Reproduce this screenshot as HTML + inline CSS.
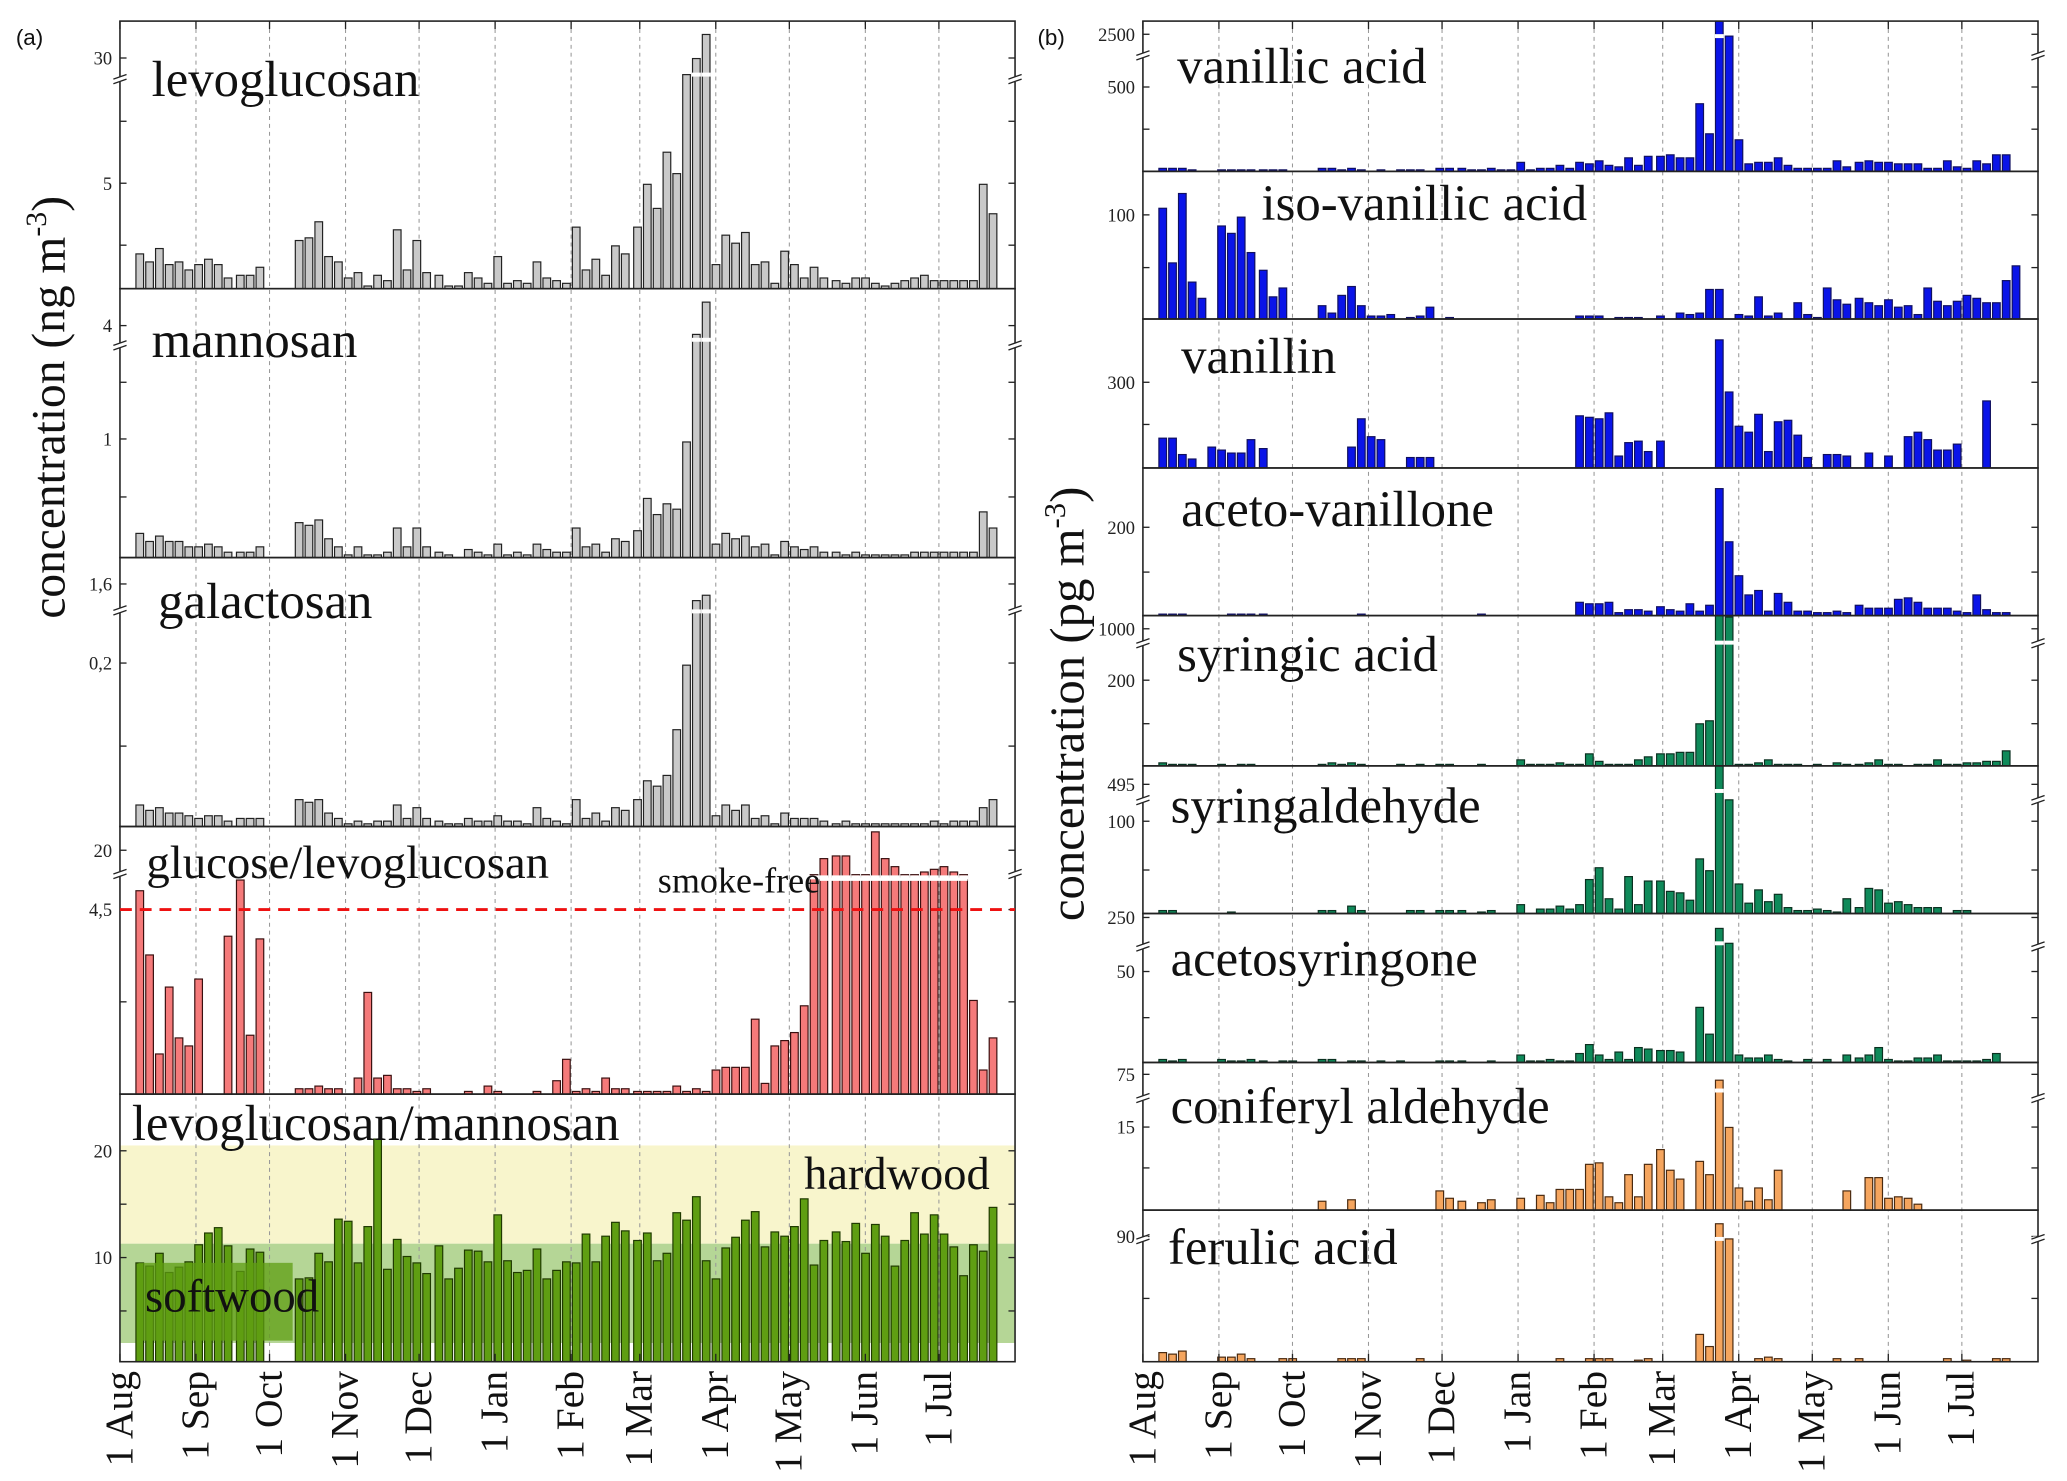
<!DOCTYPE html>
<html><head><meta charset="utf-8"><style>
html,body{margin:0;padding:0;background:#fff;}
svg{display:block;}
text{font-family:"Liberation Serif",serif;}
</style></head><body>
<svg id="chart" width="2067" height="1481" viewBox="0 0 1568 1123.5" preserveAspectRatio="none" xmlns="http://www.w3.org/2000/svg">
<rect x="0" y="0" width="1568" height="1124" fill="#fff"/>
<g id="bg"></g><g id="grid"></g><g id="bars"></g><g id="frames"></g><g id="labels"></g>
</svg>
<script>
const sampleDays=[7,11,15,19,23,27,31,35,39,43,48,52,56,60,64,68,72,76,80,84,88,92,96,100,104,108,112,116,120,124,129,133,137,141,145,149,153,157,161,165,169,173,177,181,185,189,193,197,201,205,210,214,218,222,226,230,234,238,242,246,250,254,258,262,266,270,274,278,282,286,291,295,299,303,307,311,315,319,323,327,331,335,339,343,347,351,355];
const monthDays=[0,31,61,92,122,153,184,212,243,273,304,334];
const monthLabels=["1 Aug","1 Sep","1 Oct","1 Nov","1 Dec","1 Jan","1 Feb","1 Mar","1 Apr","1 May","1 Jun","1 Jul"];
const N=null;
const levoglucosan=[13,10,15,9,10,7,9,11,9,4,5,5,8,N,N,N,18,19,25,12,10,4,6,1,5,3,22,7,18,6,5,1,1,6,4,2,12,2,3,2,10,4,3,2,23,7,11,5,16,13,23,39,30,51,43,80,86,95,9,20,17,21,9,10,2,14,9,4,8,4,3,2,4,4,2,1,2,3,4,5,3,3,3,3,3,39,28];
const mannosan=[9,6,8,6,6,4,4,5,4,2,2,2,4,N,N,N,13,12,14,7,4,1,4,1,1,2,11,4,11,4,2,1,0,3,2,1,5,1,2,1,5,3,2,2,11,4,5,2,7,6,10,22,16,20,18,43,83,95,5,9,7,8,4,5,1,6,4,3,4,2,2,1,2,1,1,1,1,1,2,2,2,2,2,2,2,17,11];
const galactosan=[8,6,7,5,5,4,3,4,4,2,3,3,3,N,N,N,10,9,10,5,3,1,2,1,2,2,8,3,7,3,2,1,1,3,2,2,4,2,2,1,7,3,2,1,10,3,5,2,7,6,10,17,15,19,36,60,84,86,4,8,6,8,3,4,1,5,3,3,3,2,1,2,1,1,1,1,1,1,1,1,2,1,2,2,2,7,10];
const glucoseRatio=[76,52,15,40,21,18,43,N,N,59,80,22,58,N,N,N,2,2,3,2,2,0,6,38,6,7,2,2,1,2,N,N,N,1,N,3,1,N,N,N,1,N,5,13,1,2,1,6,2,2,1,1,1,1,3,1,2,1,9,10,10,10,28,4,18,20,23,33,82,88,89,89,82,82,98,88,85,82,82,83,84,85,83,82,35,9,21];
const levoMannRatio=[9.5,9.2,10.4,8.6,9.1,9.6,11.2,12.3,12.8,11.1,8.7,10.8,10.5,N,N,N,8.0,8.1,10.4,9.6,13.6,13.4,9.5,12.9,21.1,8.9,11.7,10.1,9.5,8.5,11.1,8.0,9.0,10.7,10.6,9.6,14.0,9.7,8.6,8.8,10.8,8.0,8.8,9.6,9.5,12.2,9.6,12.0,13.3,12.5,11.6,12.3,9.7,10.4,14.2,13.5,15.7,9.7,8.0,10.9,11.9,13.5,14.3,11.0,12.4,12.0,12.9,15.5,9.3,11.6,12.4,11.5,13.2,10.4,13.1,12.0,9.2,11.6,14.2,12.2,14.0,12.2,11.0,8.3,11.2,10.6,14.7];
const vanillicAcid=[2,2,2,1,0,0,1,1,1,1,1,1,1,0,0,0,2,2,1,2,1,0,1,0,1,1,1,0,2,2,2,1,1,2,1,1,6,1,2,2,4,2,6,5,7,4,3,9,4,10,10,11,9,9,45,25,100,90,21,5,6,6,9,4,2,2,2,2,7,3,6,7,6,6,5,5,5,2,2,7,3,2,7,5,11,11,0];
const isoVanillicAcid=[75,38,85,25,14,0,63,58,69,45,33,15,21,0,0,0,9,4,16,22,9,2,2,3,0,1,2,8,0,1,0,0,0,0,0,0,0,0,0,0,0,0,2,2,2,0,1,1,1,0,2,0,4,3,4,20,20,0,3,2,15,2,4,0,11,3,1,21,13,10,14,11,9,13,8,9,3,21,12,9,12,16,14,11,11,26,36];
const vanillin=[20,20,9,6,0,14,12,10,10,19,13,0,0,0,0,0,0,0,0,14,33,21,19,0,0,7,7,7,0,0,0,0,0,0,0,0,0,0,0,0,0,0,35,34,33,37,8,17,18,11,18,0,0,0,0,0,86,51,28,24,36,11,31,32,22,7,0,9,9,8,0,10,0,8,0,21,24,19,12,12,16,0,0,45,0,0,0];
const acetoVanillone=[1,1,1,0,0,0,0,1,1,1,1,0,0,0,0,0,0,0,0,0,1,0,0,0,0,0,0,0,0,0,0,0,1,0,0,0,0,0,0,0,0,0,9,8,8,9,2,4,4,3,6,4,3,8,3,7,86,50,27,14,17,3,15,9,3,3,2,2,3,2,7,5,5,5,11,12,9,5,5,5,3,2,14,4,2,2,0];
const syringicAcid=[2,1,1,1,0,0,1,0,1,1,0,0,0,0,0,0,1,2,1,2,1,0,0,0,1,0,1,0,1,1,0,0,1,0,0,0,4,1,1,1,2,1,1,8,3,1,1,1,4,6,8,8,9,9,28,30,100,99,1,1,2,4,1,1,1,0,1,0,2,1,1,2,4,1,1,0,1,1,4,1,1,2,2,3,3,10,0];
const syringaldehyde=[2,2,0,0,0,0,0,1,0,0,0,0,0,0,0,0,2,2,0,5,2,0,0,0,0,2,2,0,2,2,2,0,1,2,0,0,6,0,3,3,5,3,6,23,31,10,3,25,6,22,22,15,14,9,37,29,100,77,20,7,16,8,13,4,2,2,3,2,1,10,4,17,16,7,8,6,4,4,4,0,2,2,0,0,0,0,0];
const acetosyringone=[2,1,2,0,0,0,2,1,1,2,1,0,1,1,0,0,2,2,0,1,1,0,1,0,1,0,0,0,1,1,1,0,0,1,0,0,5,1,1,2,1,1,6,12,5,2,7,2,10,9,8,8,7,0,37,19,90,80,5,3,3,5,2,1,0,2,0,2,0,5,3,5,10,2,1,1,3,3,5,1,1,1,1,2,6,0,0];
const coniferylAldehyde=[0,0,0,0,0,0,0,0,0,0,0,0,0,0,0,0,6,0,0,7,0,0,0,0,0,0,0,0,13,8,6,0,5,7,0,0,8,0,10,5,14,14,14,31,32,9,5,24,9,31,41,27,21,0,33,24,88,56,15,6,15,7,27,0,0,0,0,0,0,13,0,22,22,8,9,8,4,0,0,0,0,0,0,0,0,0,0];
const ferulicAcid=[6,5,7,0,0,0,3,3,5,2,0,0,2,2,0,0,0,0,2,2,2,0,0,0,0,0,2,0,0,0,0,0,0,0,0,0,0,0,0,0,2,0,0,2,2,2,0,0,1,2,0,0,0,0,18,10,91,81,0,0,2,3,2,0,0,0,0,0,2,0,2,0,0,0,0,0,0,0,0,2,0,1,0,0,2,2,0];

const NS="http://www.w3.org/2000/svg";
const gBg=document.getElementById('bg'),gGrid=document.getElementById('grid'),gBars=document.getElementById('bars'),gFr=document.getElementById('frames'),gLab=document.getElementById('labels');
function el(tag,attrs,parent){const e=document.createElementNS(NS,tag);for(const k in attrs)e.setAttribute(k,attrs[k]);parent.appendChild(e);return e;}
const PXD=1.86;
const L0=91,L1=770,R0=867,R1=1546;
function xL(d){return L0+d*PXD;}
function xR(d){return R0+d*PXD;}
const BW=5.8, OFF=2;

function drawPanel(p){
  const H=p.bottom-p.top;
  const xf=p.side==='L'?xL:xR;
  const gp=el('g',{},gBars);
  
  
  p.values.forEach((v,i)=>{
    if(v===null||v<=0)return;
    const x=xf(sampleDays[i])+OFF-BW/2;
    const y=p.yf?p.yf(v):p.bottom-v/100*H;
    const r=el('rect',{x:x,y:y,width:BW,height:p.bottom-y,fill:p.fill,stroke:p.stroke,'stroke-width':0.9},gp);
    
    
    if(p.brk&&v>p.brk){
      const by=p.bottom-p.brk/100*H;
      el('rect',{x:x-0.5,y:by-1.5,width:BW+1,height:3,fill:'#fff'},gp);
    }
  });
  const x0=p.side==='L'?L0:R0,x1=p.side==='L'?L1:R1;
  el('rect',{x:x0,y:p.top,width:x1-x0,height:H,fill:'none',stroke:'#222','stroke-width':1.2},gFr);
  (p.ticks||[]).forEach(t=>{
    el('line',{x1:x0,x2:x0+5,y1:t[0],y2:t[0],stroke:'#222','stroke-width':1},gFr);
    el('line',{x1:x1,x2:x1-5,y1:t[0],y2:t[0],stroke:'#222','stroke-width':1},gFr);
    if(t[1]){const tx=el('text',{x:x0-6,y:t[0]+5,'font-size':14,'text-anchor':'end',fill:'#222'},gLab);tx.textContent=t[1];
      }
  });
  if(p.breakY){
    [x0,x1].forEach(xx=>{
      el('rect',{x:xx-4,y:p.breakY-2,width:8,height:4,fill:'#fff'},gFr);
      el('line',{x1:xx-5,y1:p.breakY,x2:xx+5,y2:p.breakY-3.5,stroke:'#222','stroke-width':1},gFr);
      el('line',{x1:xx-5,y1:p.breakY+3.5,x2:xx+5,y2:p.breakY,stroke:'#222','stroke-width':1},gFr);
    });
  }
  const tt=el('text',{x:p.lx,y:p.ly,'font-size':p.fs||38.5,fill:'#111'},gLab);
  tt.textContent=p.label;
  
  
}

function yLM(v){return 1035-8.1*v;}
el('rect',{x:L0,y:yLM(20.5),width:L1-L0,height:yLM(11.3)-yLM(20.5),fill:'#f8f5cc'},gBg);
el('rect',{x:L0,y:yLM(11.3),width:L1-L0,height:yLM(2)-yLM(11.3),fill:'#b5d696'},gBg);

monthDays.forEach((d,i)=>{
  [xL(d),xR(d)].forEach(x=>{
    if(i>0) el('line',{x1:x,x2:x,y1:16,y2:1033,stroke:'#999','stroke-width':0.8,'stroke-dasharray':'3,3'},gGrid);
    el('line',{x1:x,x2:x,y1:1033,y2:1027,stroke:'#222','stroke-width':1},gFr);
    el('line',{x1:x,x2:x,y1:16,y2:22,stroke:'#222','stroke-width':1},gFr);
  });
});

const gray={fill:'#c9c9c9',stroke:'#222'};
const panels=[
 {id:'levoglucosan',side:'L',top:16,bottom:219,values:levoglucosan,fill:gray.fill,stroke:gray.stroke,brk:80,breakY:60,label:'levoglucosan',lx:115,ly:73,ticks:[[44,'30'],[139,'5'],[92,''],[186,'']]},
 {id:'mannosan',side:'L',top:219,bottom:423,values:mannosan,fill:gray.fill,stroke:gray.stroke,brk:81,breakY:262,label:'mannosan',lx:115,ly:271,ticks:[[247,'4'],[333,'1'],[290,''],[377,'']]},
 {id:'galactosan',side:'L',top:423,bottom:627,values:galactosan,fill:gray.fill,stroke:gray.stroke,brk:80,breakY:463,label:'galactosan',lx:120,ly:469,ticks:[[443,'1,6'],[503,'0,2'],[566,'']]},
 {id:'glucose-levoglucosan',side:'L',top:627,bottom:830,values:glucoseRatio,fill:'#f57a7a',stroke:'#3a1010',brk:81,breakY:663,label:'glucose/levoglucosan',lx:111,ly:666,fs:35.5,ticks:[[645,'20'],[690,'4,5'],[760,'']]},
 {id:'levoglucosan-mannosan',side:'L',top:830,bottom:1033,values:levoMannRatio,yf:yLM,fill:'#5f9e12',stroke:'#1f3a00',label:'levoglucosan/mannosan',lx:100,ly:865,fs:38.5,ticks:[[yLM(20),'20'],[yLM(10),'10'],[yLM(15),''],[yLM(5),'']]},
 {id:'vanillic-acid',side:'R',top:16,bottom:130,values:vanillicAcid,fill:'#0a14e8',stroke:'#101060',brk:90,breakY:42,label:'vanillic acid',lx:893,ly:63,ticks:[[26,'2500'],[66,'500'],[98,'']]},
 {id:'iso-vanillic-acid',side:'R',top:130,bottom:242,values:isoVanillicAcid,fill:'#0a14e8',stroke:'#101060',label:'iso-vanillic acid',lx:957,ly:167,ticks:[[163,'100'],[203,'']]},
 {id:'vanillin',side:'R',top:242,bottom:355,values:vanillin,fill:'#0a14e8',stroke:'#101060',label:'vanillin',lx:896,ly:283,ticks:[[290,'300'],[322,'']]},
 {id:'aceto-vanillone',side:'R',top:355,bottom:467,values:acetoVanillone,fill:'#0a14e8',stroke:'#101060',label:'aceto-vanillone',lx:896,ly:399,ticks:[[400,'200'],[434,'']]},
 {id:'syringic-acid',side:'R',top:467,bottom:581,values:syringicAcid,fill:'#0f8a5a',stroke:'#0a3020',brk:82,breakY:488,label:'syringic acid',lx:893,ly:509,ticks:[[477,'1000'],[516,'200'],[549,'']]},
 {id:'syringaldehyde',side:'R',top:581,bottom:693,values:syringaldehyde,fill:'#0f8a5a',stroke:'#0a3020',brk:83,breakY:607,label:'syringaldehyde',lx:888,ly:624,ticks:[[595,'495'],[623,'100'],[660,'']]},
 {id:'acetosyringone',side:'R',top:693,bottom:806,values:acetosyringone,fill:'#0f8a5a',stroke:'#0a3020',brk:80,breakY:718,label:'acetosyringone',lx:888,ly:740,ticks:[[696,'250'],[737,'50'],[772,'']]},
 {id:'coniferyl-aldehyde',side:'R',top:806,bottom:918,values:coniferylAldehyde,fill:'#f5a55e',stroke:'#4a2a10',brk:81,breakY:833,label:'coniferyl aldehyde',lx:888,ly:852,ticks:[[815,'75'],[855,'15'],[886,'']]},
 {id:'ferulic-acid',side:'R',top:918,bottom:1033,values:ferulicAcid,fill:'#f5a55e',stroke:'#4a2a10',brk:81,breakY:940,label:'ferulic acid',lx:886,ly:959,ticks:[[938,'90'],[985,'']]}
];
panels.forEach(drawPanel);

const dl=el('line',{x1:L0,x2:L1,y1:690,y2:690,stroke:'#ee1111','stroke-width':2.2,'stroke-dasharray':'9,6'},gLab);

const sf=el('line',{x1:xL(sampleDays[69])-1,x2:xL(sampleDays[83])+5,y1:667,y2:667,stroke:'#fff','stroke-width':2.5},gLab);

function txt(s,x,y,fs,name,extra){const t=el('text',Object.assign({x:x,y:y,'font-size':fs,fill:'#111'},extra||{}),gLab);t.textContent=s;return t;}
txt('smoke-free',499,677,27.4,'smoke-free-label');
const sb=el('rect',{x:105,y:958,width:117,height:59,fill:'#5f9e12','fill-opacity':0.75},gLab);

txt('hardwood',610,902,35.2,'hardwood-label');
txt('softwood',110,995,35.5,'softwood-label');

monthDays.forEach((d,i)=>{
  [xL(d),xR(d)].forEach((x,k)=>{
    const t=el('text',{x:0,y:0,'font-size':30,'text-anchor':'end',fill:'#111',transform:`translate(${x+9},1040) rotate(-90)`},gLab);
    t.textContent=monthLabels[i];
    
    
  });
});
function ytitle(x,y,unit,name,fs){
  const t=el('text',{x:0,y:0,'font-size':fs,'text-anchor':'middle',fill:'#111',transform:`translate(${x},${y}) rotate(-90)`},gLab);
  
  const a=el('tspan',{},t);a.textContent='concentration ('+unit+' m';
  const b=el('tspan',{dy:-14,'font-size':fs*0.63},t);b.textContent='-3';
  const c=el('tspan',{dy:14},t);c.textContent=')';
}
ytitle(49,309,'ng','left-y-axis-title',36);
ytitle(822,534,'pg','right-y-axis-title',37);
txt('(a)',12,34,17,'panel-a-label',{style:'font-family:"Liberation Sans",sans-serif'});
txt('(b)',787,34,17,'panel-b-label',{style:'font-family:"Liberation Sans",sans-serif'});
</script>
</body></html>
